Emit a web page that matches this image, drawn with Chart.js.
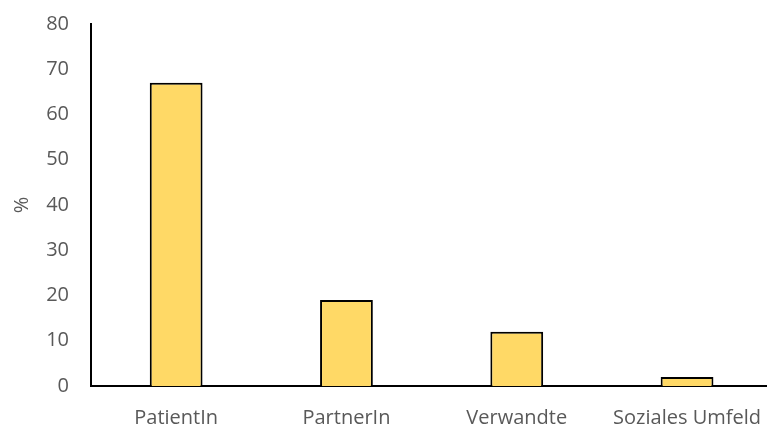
<!DOCTYPE html>
<html lang="de">
<head>
    <meta charset="UTF-8">
    <title>Verteilung</title>
    <script src="https://cdn.jsdelivr.net/npm/chart.js@4.4.1/dist/chart.umd.min.js"></script>
    <style>
        body {
            margin: 0;
            background: #ffffff;
            overflow: hidden;
        }
        canvas {
            display: block;
        }
    </style>
</head>
<body>
    <!-- plot runs a few pixels past the right edge of the window -->
    <canvas id="chart" width="775" height="427"></canvas>
</body>
</html>

<script>
const categories = ["PatientIn", "PartnerIn", "Verwandte", "Soziales Umfeld"];
const percentValues = [67, 19, 12, 2];
const yTicks = [0, 10, 20, 30, 40, 50, 60, 70, 80];

const labelFont = { family: "'Open Sans', 'Liberation Sans', sans-serif", size: 20, lineHeight: 1 };

new Chart("chart", {
  type: "bar",
  data: {
    labels: categories,
    datasets: [{
      data: percentValues,
      backgroundColor: "#ffd966",
      borderColor: "#000000",
      borderWidth: 2,
      barPercentage: 0.62,
      categoryPercentage: 0.5
    }]
  },
  options: {
    responsive: false,
    animation: false,
    layout: { padding: { top: 23, right: 0, left: 0, bottom: 0 } },
    plugins: {
      legend: { display: false },
      tooltip: { enabled: false }
    },
    scales: {
      x: {
        grid: { display: false },
        border: { display: true, color: "#000000", width: 2 },
        ticks: { color: "#595959", font: labelFont, padding: 14, maxRotation: 0 },
        afterFit: s => { s.height = 41; }
      },
      y: {
        min: 0,
        max: 80,
        afterBuildTicks: s => { s.ticks = yTicks.map(v => ({ value: v })); },
        grid: { display: false },
        border: { display: true, color: "#000000", width: 2 },
        ticks: { color: "#595959", font: labelFont, padding: 14 },
        title: {
          display: true,
          text: "%",
          color: "#595959",
          font: labelFont,
          padding: { top: 12, bottom: 0 }
        },
        afterFit: s => { s.width = 91; }
      }
    }
  }
});
</script>
